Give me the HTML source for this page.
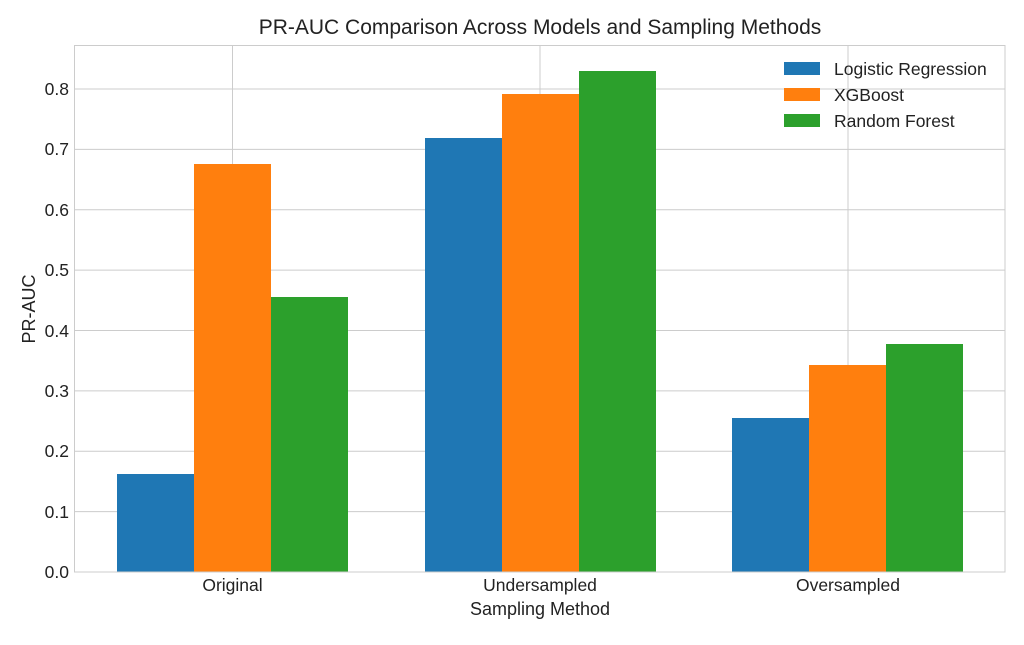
<!DOCTYPE html>
<html><head><meta charset="utf-8"><style>body{margin:0;background:#fff}</style></head><body>
<svg width="1024" height="640" xmlns="http://www.w3.org/2000/svg" font-family="Liberation Sans, sans-serif">
<rect width="1024" height="640" fill="#fff"/>
<g stroke="#cccccc" stroke-width="1">
<line x1="74" x2="1005" y1="511.6" y2="511.6"/><line x1="74" x2="1005" y1="451.3" y2="451.3"/>
<line x1="74" x2="1005" y1="390.9" y2="390.9"/><line x1="74" x2="1005" y1="330.5" y2="330.5"/>
<line x1="74" x2="1005" y1="270.1" y2="270.1"/><line x1="74" x2="1005" y1="209.8" y2="209.8"/>
<line x1="74" x2="1005" y1="149.4" y2="149.4"/><line x1="74" x2="1005" y1="89" y2="89"/>
<line x1="232.5" x2="232.5" y1="45" y2="572"/><line x1="540" x2="540" y1="45" y2="572"/><line x1="848" x2="848" y1="45" y2="572"/>
</g>
<g>
<rect x="117" y="474" width="77" height="98" fill="#1f77b4"/>
<rect x="194" y="164" width="77" height="408" fill="#ff7f0e"/>
<rect x="271" y="297" width="77" height="275" fill="#2ca02c"/>
<rect x="425" y="138" width="77" height="434" fill="#1f77b4"/>
<rect x="502" y="94" width="77" height="478" fill="#ff7f0e"/>
<rect x="579" y="71" width="77" height="501" fill="#2ca02c"/>
<rect x="732" y="418" width="77" height="154" fill="#1f77b4"/>
<rect x="809" y="365" width="77" height="207" fill="#ff7f0e"/>
<rect x="886" y="344" width="77" height="228" fill="#2ca02c"/>
</g>
<rect x="74.5" y="45.5" width="930.5" height="526.5" fill="none" stroke="#cccccc"/>
<g font-size="17.5" fill="#222" text-anchor="end">
<text x="69" y="578">0.0</text><text x="69" y="518">0.1</text><text x="69" y="457">0.2</text>
<text x="69" y="397">0.3</text><text x="69" y="337">0.4</text><text x="69" y="276">0.5</text>
<text x="69" y="216">0.6</text><text x="69" y="155">0.7</text><text x="69" y="95">0.8</text>
</g>
<g font-size="17.5" fill="#222" text-anchor="middle">
<text x="232.5" y="591">Original</text><text x="540" y="591">Undersampled</text><text x="848" y="591">Oversampled</text>
<text x="540" y="615" font-size="18">Sampling Method</text>
<text x="540" y="34" font-size="21">PR-AUC Comparison Across Models and Sampling Methods</text>
<text transform="translate(35,309) rotate(-90)" font-size="18">PR-AUC</text>
</g>
<g font-size="17.5" fill="#222">
<rect x="784" y="62" width="36" height="13" fill="#1f77b4"/><text x="834" y="75">Logistic Regression</text>
<rect x="784" y="88" width="36" height="13" fill="#ff7f0e"/><text x="834" y="101">XGBoost</text>
<rect x="784" y="114" width="36" height="13" fill="#2ca02c"/><text x="834" y="127">Random Forest</text>
</g>
</svg>
</body></html>
